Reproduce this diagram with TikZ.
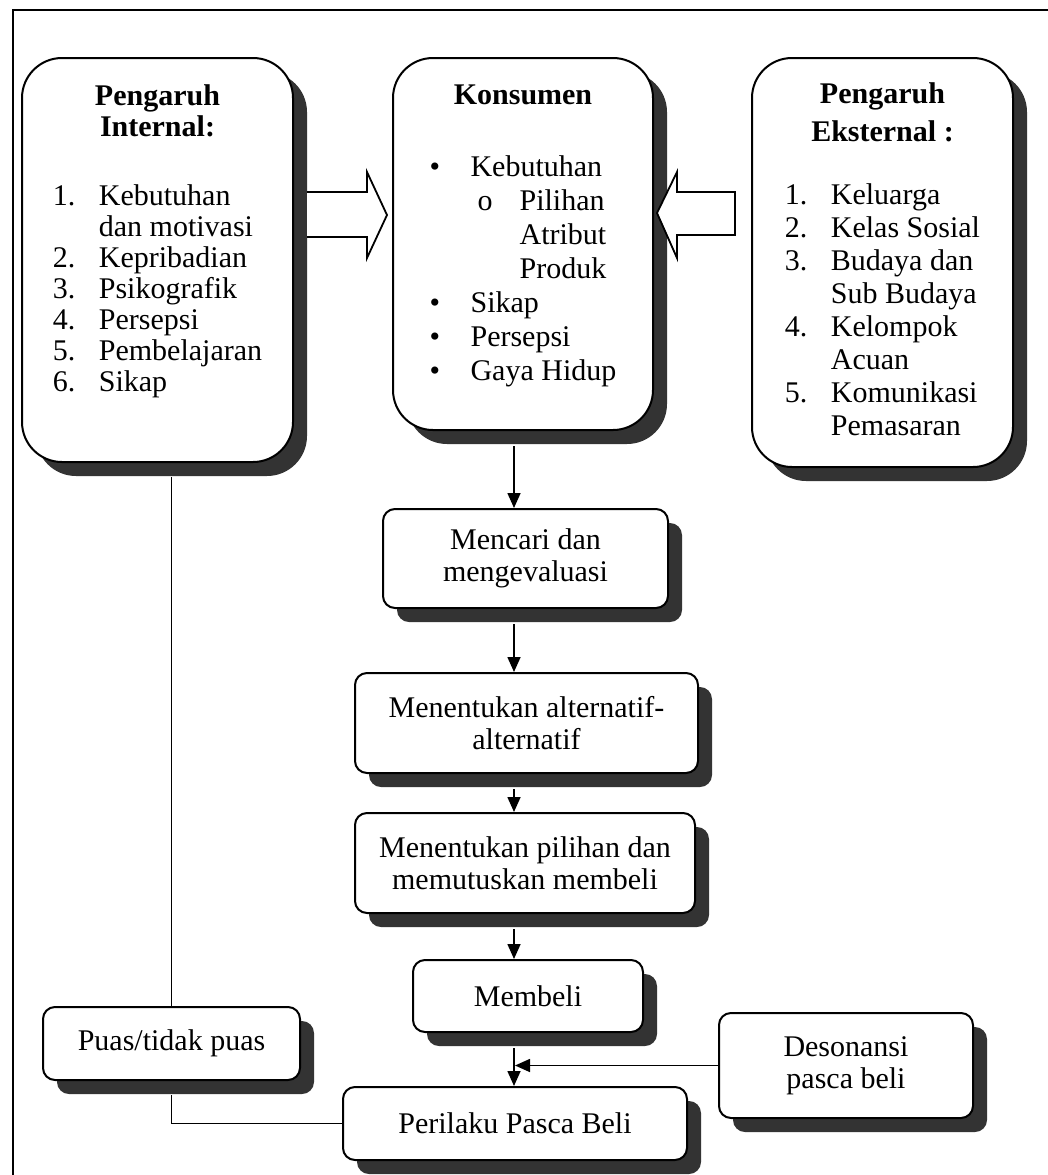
\documentclass[tikz,border=0pt]{standalone}
\usepackage{fontspec}
\setmainfont{Liberation Serif}
\usetikzlibrary{arrows.meta,shadows}

\begin{document}
\begin{tikzpicture}[x=0.5pt,y=-0.5pt,
  box/.style={draw,line width=1pt,fill=white,rounded corners=6pt,align=center,
    font=\fontsize{15}{16}\selectfont,
    drop shadow={shadow xshift=7pt,shadow yshift=-7pt,fill=black!80,opacity=1}},
  bigbox/.style={box,rounded corners=20pt},
  arr/.style={line width=0.8pt,-{Triangle[length=7.5pt,width=6.5pt]}},
  link/.style={line width=0.8pt},
  blockarr/.style={line width=0.9pt,fill=white,line join=miter}]
\useasboundingbox (0,0) rectangle (1048,1175);
\draw[link] (1048,10) -- (13,10) -- (13,1175);
\coordinate (axis) at (514,0);

% the three influences
\node[bigbox,minimum width=135.5pt,minimum height=202pt,font=\fontsize{15}{15.5}\selectfont] (intern) at (157.5,260) {%
\begin{tabular}{@{}p{23pt}@{}l@{}}
\multicolumn{2}{c}{\textbf{Pengaruh}}\\
\multicolumn{2}{c}{\textbf{Internal:}}\\[19pt]
1. & Kebutuhan\\
   & dan motivasi\\
2. & Kepribadian\\
3. & Psikografik\\
4. & Persepsi\\
5. & Pembelajaran\\
6. & Sikap\\[18pt]
\end{tabular}};
\node[bigbox,minimum width=130pt,minimum height=186pt,font=\fontsize{15}{17}\selectfont] (kons) at (523,244) {%
\begin{tabular}{@{}p{20.5pt}@{}l@{}}
\multicolumn{2}{c}{\textbf{Konsumen}}\\[19pt]
\textbullet & Kebutuhan\\
 & \hspace{3.5pt}\makebox[21pt][l]{o}Pilihan\\
 & \hspace{24.5pt}Atribut\\
 & \hspace{24.5pt}Produk\\
\textbullet & Sikap\\
\textbullet & Persepsi\\
\textbullet & Gaya Hidup\\[8pt]
\end{tabular}};
\node[bigbox,minimum width=130.5pt,minimum height=204.5pt,font=\fontsize{15}{16.5}\selectfont] (ekst) at (882.5,262.5) {%
\begin{tabular}{@{}p{23pt}@{}l@{}}
\multicolumn{2}{c}{\textbf{Pengaruh}}\\[2.5pt]
\multicolumn{2}{c}{\textbf{Eksternal :}}\\[15pt]
1. & Keluarga\\
2. & Kelas Sosial\\
3. & Budaya dan\\
   & Sub Budaya\\
4. & Kelompok\\
   & Acuan\\
5. & Komunikasi\\
   & Pemasaran\\
\end{tabular}};

% decision steps
\node[box,minimum width=142.5pt,minimum height=49.5pt] (cari) at (525.5,558.5) {Mencari dan\\mengevaluasi};
\node[box,minimum width=171.5pt,minimum height=50pt] (alt) at (526.5,723) {Menentukan alternatif-\\alternatif};
\node[box,minimum width=170pt,minimum height=50pt] (pilih) at (525,863) {Menentukan pilihan dan\\memutuskan membeli};
\node[box,minimum width=115pt,minimum height=36pt] (beli) at (528,996) {Membeli};
\node[box,minimum width=172pt,minimum height=36.5pt] (peri) at (515,1123.5) {Perilaku Pasca Beli};
\node[box,minimum width=127pt,minimum height=52.5pt] (deso) at (846,1065.5) {Desonansi\\pasca beli};
\node[box,minimum width=128.5pt,minimum height=36.5pt] (puas) at (171.5,1043.5) {Puas/tidak puas};

% block arrows
\draw[blockarr] (307,192) -- (367,192) -- (367,172) -- (387,215) -- (367,258) -- (367,237) -- (307,237);
\draw[blockarr] (735,192) -- (677,192) -- (677,172) -- (657,213) -- (677,258) -- (677,235) -- (735,235) -- cycle;

% connectors
\draw[arr] (kons.south -| axis) ++(0,15) -- (cari.north -| axis);
\draw[arr] (cari.south -| axis) ++(0,15) -- (alt.north -| axis);
\draw[arr] (alt.south -| axis) ++(0,15) -- (pilih.north -| axis);
\draw[arr] (pilih.south -| axis) ++(0,15) -- (beli.north -| axis);
\draw[arr] (beli.south -| axis) ++(0,15) -- (peri.north -| axis);
\draw[arr] (deso.west) -- ([xshift=0.5pt]deso.west -| axis);
\draw[link] (peri.west) -| ([yshift=-7pt]puas.south);
\draw[link] (puas.north) -- ([yshift=-7pt]puas.north |- intern.south);
\end{tikzpicture}
\end{document}
